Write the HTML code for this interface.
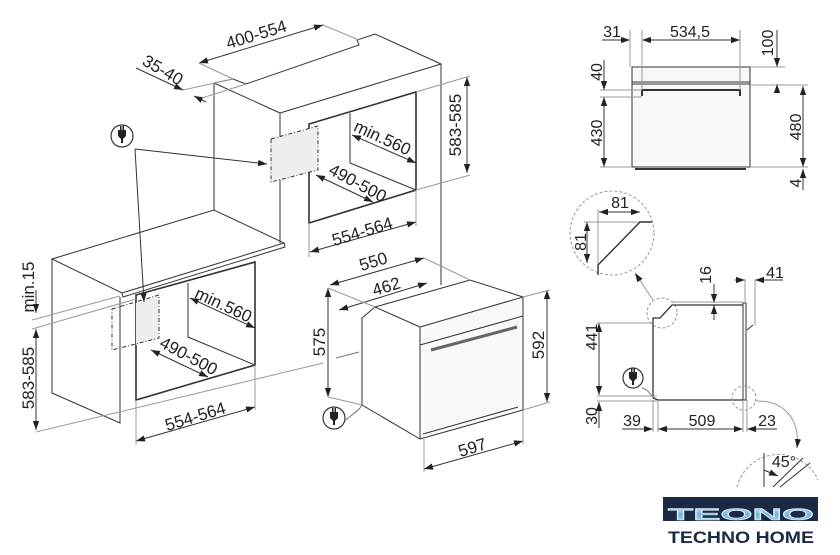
<!DOCTYPE html>
<html><head><meta charset="utf-8"><style>
html,body{margin:0;padding:0;background:#fff;}
svg{display:block;}
text{font-family:"Liberation Sans",sans-serif;fill:#222;font-size:17px;}
text.r{font-size:16px;}
</style></head><body>
<svg width="840" height="555" viewBox="0 0 840 555" xmlns="http://www.w3.org/2000/svg">
<defs>
<marker id="a" viewBox="0 0 10 10" refX="10" refY="5" markerWidth="9" markerHeight="9" markerUnits="userSpaceOnUse" orient="auto-start-reverse"><path d="M0,1.5 L10,5 L0,8.5 z" fill="#222"/></marker>
<linearGradient id="lg" x1="0" y1="0" x2="0" y2="1"><stop offset="0" stop-color="#e8f4fb"/><stop offset="0.5" stop-color="#6fb4dc"/><stop offset="1" stop-color="#cfd8de"/></linearGradient>
</defs>
<g fill="none" stroke="#333" stroke-width="1">
<polyline points="214,210 214,83 233,79 246,84 359,45 357,40 375,34 441,64 441,285"/>
<line x1="214" y1="83" x2="280" y2="113"/>
<line x1="280" y1="113" x2="441" y2="64"/>
<line x1="280" y1="113" x2="280" y2="243"/>
<polygon points="309,124 416,92 416,190 309,223" stroke-width="1.6"/>
<polyline points="350,113 350,163 416,190"/>
<polygon points="271,139 318,126 318,170 271,182" fill="#eee" stroke-dasharray="4,2,1,2"/>
<polygon points="52,259 214,210 284,243 122,293"/>
<polyline points="122,293 123,297 285,247 284,243"/>
<polyline points="52,259 52,393 120,423 120,297"/>
<polygon points="136,295 255,262 255,365 136,400" stroke-width="1.6"/>
<polyline points="188,283 188,337 255,365"/>
<polygon points="136,303 159,295 159,338 136,345" fill="#eee" stroke="none"/>
<polygon points="112,309 159,295 159,338 112,350" stroke-dasharray="4,2,1,2"/>
<line x1="135" y1="149" x2="267" y2="164" marker-end="url(#a)"/>
<line x1="135" y1="149" x2="144" y2="302" marker-end="url(#a)"/>
<circle cx="122" cy="136" r="11" stroke-width="1.2"/>
<line x1="199" y1="63" x2="323" y2="25" marker-start="url(#a)" marker-end="url(#a)"/>
<line x1="323" y1="25" x2="359" y2="40" stroke="#999"/>
<line x1="199" y1="63" x2="233" y2="79" stroke="#999"/>
<line x1="136" y1="68" x2="183" y2="90" marker-end="url(#a)"/>
<line x1="206" y1="102" x2="194" y2="96" marker-end="url(#a)"/>
<line x1="183" y1="90" x2="233" y2="79" stroke="#999"/>
<line x1="202" y1="98" x2="246" y2="84" stroke="#999"/>
<line x1="467" y1="77" x2="467" y2="173" marker-start="url(#a)" marker-end="url(#a)"/>
<line x1="416" y1="92" x2="470" y2="76" stroke="#999"/>
<line x1="416" y1="190" x2="470" y2="175" stroke="#999"/>
<line x1="352" y1="135" x2="416" y2="163" marker-start="url(#a)" marker-end="url(#a)"/>
<line x1="316" y1="175" x2="373" y2="202" marker-start="url(#a)" marker-end="url(#a)"/>
<line x1="310" y1="252" x2="416" y2="222" marker-start="url(#a)" marker-end="url(#a)"/>
<line x1="309" y1="223" x2="309" y2="257" stroke="#999"/>
<line x1="416" y1="190" x2="416" y2="226" stroke="#999"/>
<line x1="36" y1="290" x2="36" y2="313" marker-end="url(#a)"/>
<line x1="36" y1="329" x2="36" y2="430" marker-start="url(#a)" marker-end="url(#a)"/>
<line x1="32" y1="320" x2="120" y2="296" stroke="#999"/>
<line x1="32" y1="329" x2="136" y2="299" stroke="#999"/>
<line x1="36" y1="432" x2="323" y2="363" stroke="#999"/>
<line x1="336" y1="358" x2="359" y2="352" stroke="#777"/>
<line x1="136" y1="441" x2="255" y2="407" marker-start="url(#a)" marker-end="url(#a)"/>
<line x1="136" y1="400" x2="136" y2="445" stroke="#999"/>
<line x1="255" y1="365" x2="255" y2="410" stroke="#999"/>
<line x1="190" y1="298" x2="255" y2="328" marker-start="url(#a)" marker-end="url(#a)"/>
<line x1="151" y1="350" x2="208" y2="377" marker-start="url(#a)" marker-end="url(#a)"/>
<polyline points="420,327 375,307 362,318 362,405 420,439"/>
<polyline points="375,307 470,280 523,297"/>
<polygon points="420,327 523,297 523,410 420,439" fill="#f8f8f8"/>
<line x1="420" y1="345" x2="523" y2="316"/>
<line x1="431" y1="350" x2="517" y2="327" stroke="#666" stroke-width="3"/>
<line x1="423" y1="434" x2="518" y2="407"/>
<path d="M362,405 C358,412 352,414 346,420" stroke="#777"/>
<line x1="330" y1="285" x2="424" y2="258" marker-start="url(#a)" marker-end="url(#a)"/>
<line x1="424" y1="258" x2="470" y2="280" stroke="#999"/>
<line x1="339" y1="310" x2="427" y2="283" marker-start="url(#a)" marker-end="url(#a)"/>
<line x1="328" y1="288" x2="328" y2="397" marker-start="url(#a)" marker-end="url(#a)"/>
<line x1="328" y1="288" x2="375" y2="307" stroke="#999"/>
<line x1="328" y1="397" x2="362" y2="405" stroke="#999"/>
<line x1="547" y1="290" x2="547" y2="402" marker-start="url(#a)" marker-end="url(#a)"/>
<line x1="523" y1="297" x2="550" y2="290" stroke="#999"/>
<line x1="523" y1="410" x2="550" y2="402" stroke="#999"/>
<line x1="424" y1="469" x2="523" y2="441" marker-start="url(#a)" marker-end="url(#a)"/>
<line x1="424" y1="439" x2="424" y2="472" stroke="#999"/>
<line x1="523" y1="410" x2="523" y2="444" stroke="#999"/>
<circle cx="334" cy="418" r="11" stroke-width="1.2"/>
<rect x="632" y="67" width="118" height="100" fill="#f8f8f8"/>
<line x1="632" y1="82" x2="750" y2="82"/><line x1="632" y1="84" x2="750" y2="84"/>
<line x1="635" y1="169" x2="746" y2="169" stroke-width="2"/>
<polyline points="642,96 642,90 740,90 740,96" stroke-width="2"/>
<line x1="602" y1="40" x2="630" y2="40" marker-end="url(#a)"/>
<line x1="642" y1="40" x2="740" y2="40" marker-start="url(#a)" marker-end="url(#a)"/>
<line x1="630" y1="30" x2="630" y2="67" stroke="#999"/>
<line x1="642" y1="30" x2="642" y2="90" stroke="#999"/>
<line x1="740" y1="30" x2="740" y2="90" stroke="#999"/>
<line x1="777" y1="30" x2="777" y2="67" marker-end="url(#a)"/>
<line x1="777" y1="92" x2="777" y2="84" marker-end="url(#a)"/>
<line x1="750" y1="67" x2="785" y2="67" stroke="#999"/>
<line x1="750" y1="85" x2="808" y2="85" stroke="#999"/>
<line x1="803" y1="86" x2="803" y2="167" marker-start="url(#a)" marker-end="url(#a)"/>
<line x1="803" y1="190" x2="803" y2="169" marker-end="url(#a)"/>
<line x1="750" y1="167" x2="808" y2="167" stroke="#999"/>
<line x1="604" y1="60" x2="604" y2="90" marker-end="url(#a)"/>
<line x1="604" y1="97" x2="604" y2="167" marker-start="url(#a)" marker-end="url(#a)"/>
<line x1="600" y1="90" x2="642" y2="90" stroke="#999"/>
<line x1="600" y1="97" x2="642" y2="97" stroke="#999"/>
<line x1="600" y1="167" x2="632" y2="167" stroke="#999"/>
<circle cx="612" cy="233" r="42" stroke="#999" stroke-dasharray="3,2"/>
<line x1="599" y1="212" x2="640" y2="212" marker-start="url(#a)" marker-end="url(#a)"/>
<line x1="598" y1="209" x2="598" y2="265" stroke="#999"/>
<line x1="587" y1="222" x2="587" y2="263" marker-start="url(#a)" marker-end="url(#a)"/>
<line x1="584" y1="222" x2="640" y2="222" stroke="#999"/>
<polyline points="598,275 598,265 640,222 652,222" stroke-width="1.4"/>
<line x1="653" y1="300" x2="635" y2="273" stroke="#999" marker-end="url(#a)"/>
<circle cx="662" cy="313" r="15" stroke="#999" stroke-dasharray="3,2"/>
<polyline points="653,398 653,318 660,318 672,305 743,305" stroke-width="1.3"/>
<polyline points="653,398 658,400 743,400" stroke-width="1.3"/>
<rect x="743" y="303" width="3" height="97"/>
<line x1="747" y1="330" x2="753" y2="325"/>
<line x1="714" y1="284" x2="714" y2="303" marker-end="url(#a)"/>
<line x1="714" y1="320" x2="714" y2="305" marker-end="url(#a)"/>
<line x1="672" y1="302" x2="743" y2="302" stroke="#999"/>
<line x1="735" y1="280" x2="745" y2="280" marker-end="url(#a)"/>
<line x1="783" y1="280" x2="755" y2="280" marker-end="url(#a)"/>
<line x1="745" y1="280" x2="745" y2="303" stroke="#999"/>
<line x1="755" y1="280" x2="755" y2="325" stroke="#999"/>
<line x1="599" y1="323" x2="599" y2="395" marker-start="url(#a)" marker-end="url(#a)"/>
<line x1="597" y1="323" x2="652" y2="323" stroke="#999"/>
<line x1="599" y1="428" x2="599" y2="402" marker-end="url(#a)"/>
<line x1="597" y1="396" x2="657" y2="396" stroke="#999"/>
<line x1="597" y1="401" x2="657" y2="401" stroke="#999"/>
<line x1="622" y1="429" x2="653" y2="429" marker-end="url(#a)"/>
<line x1="658" y1="429" x2="743" y2="429" marker-start="url(#a)" marker-end="url(#a)"/>
<line x1="777" y1="429" x2="747" y2="429" marker-end="url(#a)"/>
<line x1="653" y1="400" x2="653" y2="432" stroke="#999"/>
<line x1="658" y1="400" x2="658" y2="432" stroke="#999"/>
<line x1="743" y1="400" x2="743" y2="432" stroke="#999"/>
<line x1="747" y1="400" x2="747" y2="432" stroke="#999"/>
<circle cx="633" cy="378" r="10" stroke-width="1.2"/>
<path d="M642,388 C650,390 650,396 655,398" stroke="#777"/>
<circle cx="744" cy="398" r="12" stroke="#999" stroke-dasharray="3,2"/>
<path d="M755,401 C785,400 800,420 797,448" stroke="#999" marker-end="url(#a)"/>
<path d="M737,487 A43,43 0 0 1 818,480" stroke="#999" stroke-dasharray="3,2"/>
<line x1="764" y1="453" x2="764" y2="487"/>
<line x1="773" y1="487" x2="803" y2="458"/>
<line x1="780" y1="487" x2="810" y2="463"/>
<line x1="764" y1="470" x2="778" y2="476" marker-end="url(#a)"/>
</g>
<g fill="#222">
<path d="M118,130 h2 v-4 h1.5 v4 h1 v-4 h1.5 v4 h2 v6 l-3,3 v4 h-2 v-4 l-3,-3z"/>
<path d="M330,412 h2 v-4 h1.5 v4 h1 v-4 h1.5 v4 h2 v6 l-3,3 v4 h-2 v-4 l-3,-3z"/>
<path d="M629,372 h2 v-4 h1.5 v4 h1 v-4 h1.5 v4 h2 v6 l-3,3 v4 h-2 v-4 l-3,-3z"/>
</g>
<text transform="translate(258,40) rotate(-17)" text-anchor="middle">400-554</text>
<text transform="translate(160,75) rotate(30)" text-anchor="middle">35-40</text>
<text transform="translate(461,125) rotate(-90)" text-anchor="middle">583-585</text>
<text transform="translate(380,143) rotate(25)" text-anchor="middle">min.560</text>
<text transform="translate(355,188) rotate(28)" text-anchor="middle">490-500</text>
<text transform="translate(364,237) rotate(-17)" text-anchor="middle">554-564</text>
<text transform="translate(34,287) rotate(-90)" text-anchor="middle">min.15</text>
<text transform="translate(34,378) rotate(-90)" text-anchor="middle">583-585</text>
<text transform="translate(221,310) rotate(25)" text-anchor="middle">min.560</text>
<text transform="translate(186,361) rotate(28)" text-anchor="middle">490-500</text>
<text transform="translate(197,422) rotate(-17)" text-anchor="middle">554-564</text>
<text transform="translate(375,267) rotate(-17)" text-anchor="middle">550</text>
<text transform="translate(388,292) rotate(-17)" text-anchor="middle">462</text>
<text transform="translate(325,342) rotate(-90)" text-anchor="middle">575</text>
<text transform="translate(544,345) rotate(-90)" text-anchor="middle">592</text>
<text transform="translate(474,453) rotate(-17)" text-anchor="middle">597</text>
<text class="r" x="612" y="37" text-anchor="middle">31</text>
<text class="r" x="690" y="37" text-anchor="middle">534,5</text>
<text class="r" transform="translate(773,43) rotate(-90)" text-anchor="middle">100</text>
<text class="r" transform="translate(602,72) rotate(-90)" text-anchor="middle">40</text>
<text class="r" transform="translate(602,133) rotate(-90)" text-anchor="middle">430</text>
<text class="r" transform="translate(801,127) rotate(-90)" text-anchor="middle">480</text>
<text class="r" transform="translate(801,183) rotate(-90)" text-anchor="middle">4</text>
<text class="r" x="620" y="208" text-anchor="middle">81</text>
<text class="r" transform="translate(586,242) rotate(-90)" text-anchor="middle">81</text>
<text class="r" transform="translate(711,275) rotate(-90)" text-anchor="middle">16</text>
<text class="r" x="775" y="278" text-anchor="middle">41</text>
<text class="r" transform="translate(597,337) rotate(-90)" text-anchor="middle">441</text>
<text class="r" transform="translate(597,416) rotate(-90)" text-anchor="middle">30</text>
<text class="r" x="632" y="426" text-anchor="middle">39</text>
<text class="r" x="702" y="426" text-anchor="middle">509</text>
<text class="r" x="767" y="426" text-anchor="middle">23</text>
<text class="r" x="784" y="467" text-anchor="middle">45°</text>
<rect x="663" y="497" width="155" height="24" fill="#1b2a44"/>
<text x="668" y="520" font-size="29" font-weight="bold" textLength="146" lengthAdjust="spacingAndGlyphs" style="fill:url(#lg);stroke:#dfeef7;stroke-width:0.6">TEONO</text>
<text x="668" y="543" font-size="14" font-weight="bold" textLength="146" lengthAdjust="spacingAndGlyphs" style="fill:#1b2a44">TECHNO HOME</text>
</svg>
</body></html>
